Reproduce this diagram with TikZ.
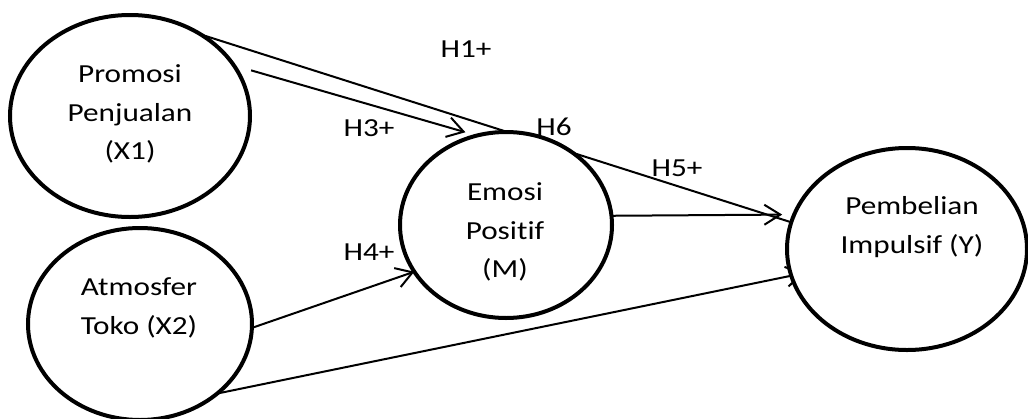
\documentclass[tikz,border=0pt]{standalone}
\usepackage{fontspec}
\setmainfont{Carlito}[FakeStretch=1.2,Ligatures=NoCommon]
\usetikzlibrary{arrows.meta,shapes.geometric}
\pgfdeclarelayer{bg}
\pgfsetlayers{bg,main}
\begin{document}
\begin{tikzpicture}[x=1pt,y=-1pt,
  latent/.style={ellipse,draw=black,line width=4pt,fill=white,inner sep=0pt,outer sep=0pt},
  txt/.style={align=center,font=\fontsize{26pt}{38.5pt}\selectfont,inner sep=0pt},
  lbl/.style={font=\fontsize{26pt}{30pt}\selectfont,inner sep=0pt,anchor=base},
  conn/.style={line width=2pt},
  arr/.style={conn,-{Straight Barb[length=16pt,width=20pt,line width=2pt]}}]
\useasboundingbox (0,0) rectangle (1028,418);
\node[latent,minimum width=240pt,minimum height=202pt] (X1) at (130,116) {};
\node[latent,minimum width=224pt,minimum height=192pt] (X2) at (140,324) {};
\node[latent,minimum width=212pt,minimum height=186pt] (M) at (506,225) {};
\node[latent,minimum width=240pt,minimum height=202pt] (Y) at (907,249) {};
\begin{pgfonlayer}{bg}
\draw[conn] (X1.49.5) -- (Y.167);
\draw[arr,shorten <=18pt,shorten >=12pt] (X1.26.6) -- (M.108);
\draw[arr] (X2.-2) -- (M.207.5);
\draw[arr,shorten >=12pt] (M.5.4) -- (Y.163.3);
\draw[arr,shorten >=-13pt] (X2.-42.2) -- (Y.193.3);
\end{pgfonlayer}
\node[txt] (X1t) at (130,114) {Promosi\\Penjualan\\(X1)};
\node[txt] (X2t) at (139,308) {Atmosfer\\Toko (X2)};
\node[txt] (Mt) at (505,232) {Emosi\\Positif\\(M)};
\node[txt] (Yt) at (912,227) {Pembelian\\Impulsif (Y)};
\node[lbl] (h1) at (466,57) {H1+};
\node[lbl] (h3) at (369,136) {H3+};
\node[lbl] (h6) at (554,135) {H6};
\node[lbl] (h5) at (677,176) {H5+};
\node[lbl] (h4) at (369,260) {H4+};
\end{tikzpicture}
\end{document}
